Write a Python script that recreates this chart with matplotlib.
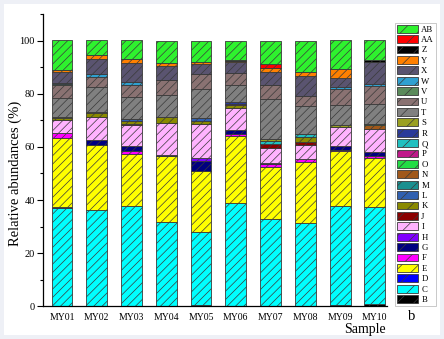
import matplotlib
matplotlib.use("Agg")
import matplotlib.pyplot as plt
import numpy as np
from matplotlib.patches import Rectangle
from matplotlib.ticker import MultipleLocator

plt.rcParams["font.family"] = ["Liberation Serif", "DejaVu Serif"]
plt.rcParams["hatch.linewidth"] = 0.5

# Samples and taxa (stack order bottom -> top)
samples = ["MY01", "MY02", "MY03", "MY04", "MY05", "MY06", "MY07", "MY08", "MY09", "MY10"]
taxa = ["B", "C", "D", "E", "F", "G", "H", "I", "J", "K", "L", "M", "N", "O",
        "P", "Q", "R", "S", "T", "U", "V", "W", "X", "Y", "Z", "AA", "AB"]
colors = ["#000000", "#00ffff", "#0000ff", "#ffff00", "#ff00ff", "#000080", "#8000ff",
          "#ffb3ff", "#8b0000", "#8a8a00", "#3060b0", "#1a9090", "#a0581a", "#22dd44",
          "#c0188a", "#20c0c0", "#2a3a9a", "#9aa020", "#808080", "#8a7272", "#5a8a5a",
          "#2fa0d0", "#5a5470", "#ff8000", "#000000", "#ff0000", "#2ef22e"]

# Relative abundances (%) per taxon, one value per sample
B = [0, 0, 0, 0, 0.5, 0, 0, 0, 0.4, 0.75]
C = [36.9, 36.3, 37.8, 31.9, 27.6, 38.8, 32.8, 31.3, 37.2, 36.8]
D = [0.6, 0, 0, 0, 0, 0, 0, 0, 0, 0]
E = [25.8, 24.4, 19.6, 24.5, 22.9, 25.4, 19.8, 23.0, 20.7, 18.4]
F = [1.9, 0, 0.9, 0, 0, 0.75, 0.9, 1.1, 0.4, 0.75]
G = [0, 1.8, 1.9, 0.6, 3.8, 1.5, 0.4, 0, 1.5, 1.3]
H = [0, 0, 0, 0, 1.0, 0, 0, 0, 0, 0]
I = [4.8, 8.8, 8.2, 11.9, 12.8, 8.2, 5.7, 5.4, 7.2, 8.8]
J = [0, 0, 0.3, 0, 0, 0, 1.6, 1.0, 0, 0]
K = [0.7, 1.3, 1.0, 2.3, 1.3, 1.0, 0, 1.9, 0, 0]
L = [0, 0, 0.6, 0, 1.0, 0, 0, 0, 0, 0]
M = [0, 0, 0, 0, 0, 0, 0, 0, 0, 0]
N = [0, 0, 0, 0, 0, 0, 0, 0, 0, 1.3]
O = [0, 0, 0, 0, 0, 0, 0, 0, 0, 0.6]
P = [0, 0, 0, 0, 0, 0.5, 0, 0, 0, 0]
Q = [0, 0, 0, 0, 0, 0, 0.9, 1.1, 0, 0]
R = [0, 0, 0, 0, 0, 0.6, 0, 0, 0, 0]
S = [0.6, 0.5, 0, 0, 0, 0, 0.9, 0, 1.0, 0]
T = [7.2, 9.5, 8.5, 8.2, 10.9, 6.4, 15.2, 10.7, 7.2, 7.3]
U = [4.6, 3.8, 4.6, 5.9, 5.7, 4.6, 5.0, 3.5, 6.3, 6.8]
V = [0.6, 0, 0, 0, 0, 0, 0, 0, 0, 0]
W = [0.4, 0.9, 1.0, 0, 0, 0, 0, 0, 0.75, 0.75]
X = [4.0, 5.9, 7.2, 5.3, 3.6, 4.1, 5.0, 7.5, 3.4, 8.3]
Y = [0.75, 1.5, 1.3, 1.0, 0.9, 0.6, 1.5, 1.6, 3.1, 0]
Z = [0, 0, 0, 0, 0, 0.3, 0, 0, 0, 0.75]
AA = [0, 0, 0, 0, 0, 0, 1.3, 0, 0, 0]
AB = [11.2, 5.4, 7.2, 8.4, 8.0, 7.2, 9.0, 11.8, 10.9, 7.5]

values = [B, C, D, E, F, G, H, I, J, K, L, M, N, O, P, Q, R, S, T, U, V, W, X, Y, Z, AA, AB]

fig = plt.figure(figsize=(4.44, 3.39), dpi=100, facecolor="#eef0f6")
fig.patches.append(Rectangle((4 / 444, 4 / 339), 436 / 444, 331 / 339,
                             transform=fig.transFigure, facecolor="white",
                             edgecolor="none", zorder=-10))
ax = fig.add_axes([43 / 444, 1 - 306.3 / 339, 344 / 444, 292.3 / 339])
ax.set_facecolor("none")

x = np.arange(len(samples))
bottom = np.zeros(len(samples))
handles = []
for name, col, vals in zip(taxa, colors, values):
    vals = np.array(vals, dtype=float)
    bars = ax.bar(x, vals, 0.6, bottom=bottom, color=col, edgecolor="#3a3a3a",
                  linewidth=0.6, hatch="////", label=name)
    handles.append(bars)
    bottom += vals

ax.set_xlim(-0.547, 9.35)
ax.set_ylim(0, 110)
ax.yaxis.set_major_locator(MultipleLocator(20))
ax.yaxis.set_minor_locator(MultipleLocator(10))
ax.set_yticks([0, 20, 40, 60, 80, 100])
ax.set_xticks(x)
ax.set_xticklabels(samples, fontsize=7)
ax.tick_params(axis="x", length=0, pad=5)
ax.tick_params(axis="y", which="major", length=4, width=0.8, labelsize=7.5, pad=2)
ax.tick_params(axis="y", which="minor", length=2.5, width=0.8)
for s in ["top", "right"]:
    ax.spines[s].set_visible(False)
ax.spines["left"].set_linewidth(0.9)
ax.spines["bottom"].set_linewidth(0.9)

ax.set_ylabel("Relative abundances (%)", fontsize=10.5)
ax.yaxis.set_label_coords(-0.06, 0.454)
fig.text(386 / 444, 1 - 330 / 339, "Sample", fontsize=10, ha="right", va="center")
fig.text(412 / 444, 1 - 316 / 339, "b", fontsize=10.5, ha="center", va="center")

leg = fig.legend(handles[::-1], taxa[::-1], loc="upper left",
                 bbox_to_anchor=(395 / 444, 1 - 23 / 339), fontsize=6.3,
                 frameon=True, fancybox=False, edgecolor="#b0b0b0",
                 handlelength=2.4, handleheight=1.0, labelspacing=0.17,
                 handletextpad=0.4, borderpad=0.2, borderaxespad=0)
leg.get_frame().set_linewidth(0.6)
for h in leg.legend_handles:
    h.set_hatch("//")

fig.savefig("out.png", dpi=100, facecolor=fig.get_facecolor())
